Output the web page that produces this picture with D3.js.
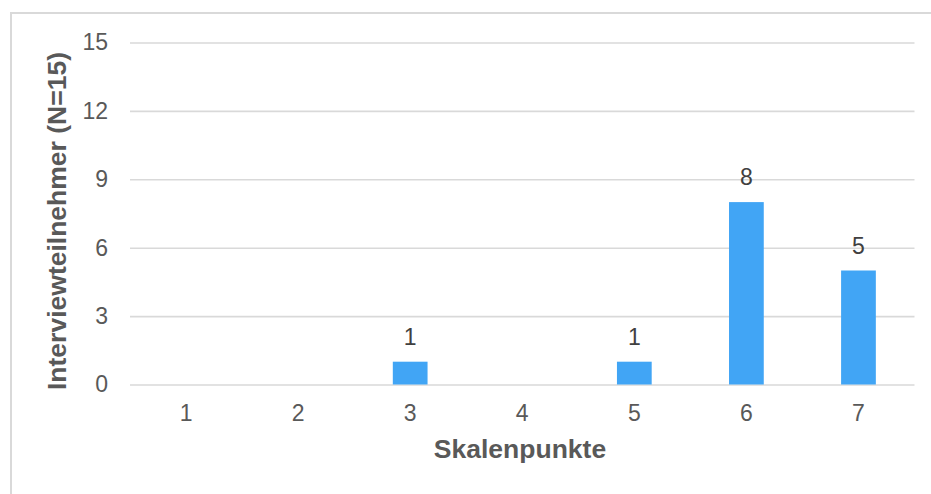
<!DOCTYPE html>
<html>
<head>
<meta charset="utf-8">
<script src="https://cdn.jsdelivr.net/npm/d3@7/dist/d3.min.js"></script>
<style>
  html, body { margin: 0; padding: 0; background: #fff; }
  svg { display: block; font-family: "Liberation Sans", Arial, sans-serif; }
</style>
</head>
<body>
<svg id="chart" width="931" height="494"></svg>
<script>
// Antworten je Skalenpunkt
const categories = ["1", "2", "3", "4", "5", "6", "7"];
const counts = [0, 0, 1, 0, 1, 8, 5];
const yTicks = [0, 3, 6, 9, 12, 15];
const xTitle = "Skalenpunkte";
const yTitle = "Interviewteilnehmer (N=15)";

const svg = d3.select("#chart");
const W = 931, H = 494;
const plot = { left: 130, right: 914.5, top: 42.5, bottom: 384.5 };

// chart frame (extends past the right and bottom edges)
svg.append("rect")
  .attr("x", 11).attr("y", 13)
  .attr("width", W + 20).attr("height", H + 20)
  .attr("fill", "#fff")
  .attr("stroke", "#d9d9d9").attr("stroke-width", 2);

const x = d3.scaleBand()
  .domain(categories)
  .range([plot.left, plot.right])
  .paddingInner(0.69)
  .paddingOuter(0.345);

const y = d3.scaleLinear()
  .domain([0, 15])
  .range([plot.bottom, plot.top]);

// horizontal gridlines + y tick labels
const yAxis = d3.axisLeft(y)
  .tickValues(yTicks)
  .tickSize(-(plot.right - plot.left))
  .tickPadding(22);

const gy = svg.append("g")
  .attr("transform", `translate(${plot.left},0)`)
  .call(yAxis);
gy.select(".domain").remove();
gy.selectAll(".tick line").attr("stroke", "#d9d9d9").attr("stroke-width", 1.6);
gy.selectAll(".tick text")
  .attr("fill", "#595959")
  .style("font-size", "23px")
  .style("font-family", "'Liberation Sans', Arial, sans-serif");

// x tick labels
const xAxis = d3.axisBottom(x).tickSize(0).tickPadding(20);
const gx = svg.append("g")
  .attr("transform", `translate(0,${plot.bottom})`)
  .call(xAxis);
gx.select(".domain").remove();
gx.selectAll(".tick text")
  .attr("fill", "#595959")
  .style("font-size", "23px")
  .style("font-family", "'Liberation Sans', Arial, sans-serif");

// bars
svg.append("g").selectAll("rect")
  .data(categories.map((c, i) => ({ c, v: counts[i] })))
  .join("rect")
  .attr("x", d => x(d.c))
  .attr("y", d => y(d.v))
  .attr("width", x.bandwidth())
  .attr("height", d => y(0) - y(d.v))
  .attr("fill", "#41a5f5");

// value labels above non-empty bars
svg.append("g").selectAll("text")
  .data(categories.map((c, i) => ({ c, v: counts[i] })).filter(d => d.v > 0))
  .join("text")
  .attr("x", d => x(d.c) + x.bandwidth() / 2)
  .attr("y", d => y(d.v) - 17)
  .attr("text-anchor", "middle")
  .attr("fill", "#404040")
  .style("font-size", "23px")
  .text(d => d.v);

// axis titles
svg.append("text")
  .attr("x", 520).attr("y", 458)
  .attr("text-anchor", "middle")
  .attr("fill", "#595959")
  .style("font-size", "26.5px")
  .style("font-weight", "bold")
  .text(xTitle);

svg.append("text")
  .attr("transform", "translate(66,221) rotate(-90)")
  .attr("text-anchor", "middle")
  .attr("fill", "#595959")
  .style("font-size", "26.5px")
  .style("font-weight", "bold")
  .text(yTitle);
</script>
</body>
</html>
